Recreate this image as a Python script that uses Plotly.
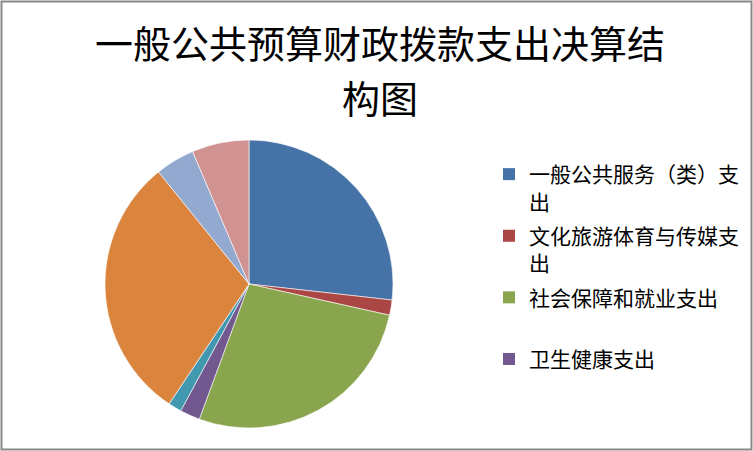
import plotly.graph_objects as go

# slice labels (only the first four appear in the legend of the original)
labels = ["一般公共服务（类）支出", "文化旅游体育与传媒支出", "社会保障和就业支出", "卫生健康支出",
          "节能环保支出", "城乡社区支出", "农林水支出", "住房保障支出"]
shares = [26.75, 1.7, 27.1, 2.25, 1.5, 29.8, 4.4, 6.4]
colors = ["#4572A7", "#AA4643", "#89A54E", "#71588F", "#4198AF", "#DB843D", "#93A9CF", "#D19392"]
legend_names = ["一般公共服务（类）支<br>出", "文化旅游体育与传媒支<br>出", "社会保障和就业支出<br> ", "卫生健康支出"]
title_lines = ["一般公共预算财政拨款支出决算结", "构图"]

W, H = 753, 451
cx, cy, r = 249, 284, 144

fig = go.Figure()
fig.add_trace(go.Pie(labels=labels, values=shares, sort=False, direction="clockwise",
                     rotation=0, textinfo="none", showlegend=False,
                     marker=dict(colors=colors, line=dict(color="white", width=0.6)),
                     domain=dict(x=[(cx - r) / W, (cx + r) / W], y=[1 - (cy + r) / H, 1 - (cy - r) / H])))

# legend entries, drawn as empty scatter traces so only four show
for i, nm in enumerate(legend_names):
    fig.add_trace(go.Scatter(x=[None], y=[None], mode="markers", name=nm, legendgroup=str(i),
                             marker=dict(symbol="square", size=12, color=colors[i])))

fig.update_layout(
    width=W, height=H,
    margin=dict(l=0, r=0, t=0, b=0),
    paper_bgcolor="white", plot_bgcolor="white",
    font=dict(family="Noto Sans CJK SC", color="black"),
    title=dict(text=title_lines[0], x=380 / W, xanchor="center",
               y=1 - 45 / H, yanchor="middle", xref="paper", yref="container",
               font=dict(size=38, family="Noto Sans CJK SC")),
    xaxis=dict(visible=False), yaxis=dict(visible=False),
    legend=dict(x=489 / W, y=1 - 154 / H, xanchor="left", yanchor="top", valign="top",
                font=dict(size=21), tracegroupgap=4, bgcolor="rgba(0,0,0,0)"),
    shapes=[dict(type="rect", xref="paper", yref="paper", x0=1.5 / W, x1=1 - 1.5 / W,
                 y0=1.5 / H, y1=1 - 1.5 / H, line=dict(color="#888888", width=2))],
)
# second title line
fig.add_annotation(text=title_lines[1], x=380 / W, y=1 - 96 / H, xref="paper", yref="paper",
                   xanchor="center", yanchor="middle", showarrow=False,
                   font=dict(size=38, family="Noto Sans CJK SC"))

fig.write_html("out.html", config={"displayModeBar": False},
               post_script="document.body.style.margin='0';")
